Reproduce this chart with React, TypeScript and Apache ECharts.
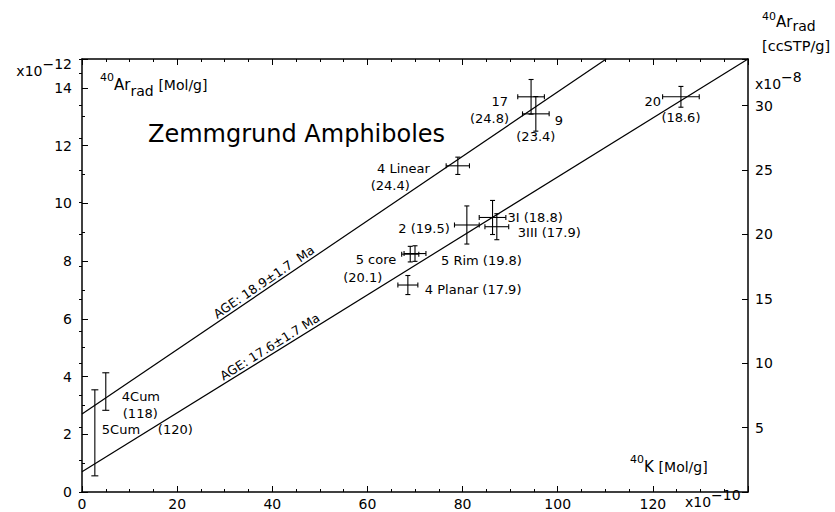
import React, { useEffect, useRef } from "react";
import * as echarts from "echarts";

// ---- data ----
// 40K in units of 1e-10 Mol/g, radiogenic 40Ar in units of 1e-12 Mol/g
const sampleNames = ["5Cum", "4Cum", "4 Planar", "5 core", "5 Rim", "4 Linear", "2", "3I", "3III", "17", "9", "20"];
const sampleAges = ["(120)", "(118)", "(17.9)", "(20.1)", "(19.8)", "(24.4)", "(19.5)", "(18.8)", "(17.9)", "(24.8)", "(23.4)", "(18.6)"];
const potassium40 = [2.7, 5.0, 68.5, 69.0, 70.0, 79.0, 80.9, 86.3, 87.2, 94.4, 95.4, 125.9];
const argon40 = [2.05, 3.48, 7.17, 8.24, 8.26, 11.3, 9.25, 9.51, 9.19, 13.69, 13.1, 13.69];
const potassiumErr = [0, 0, 2.1, 1.8, 2.3, 2.45, 2.6, 2.8, 2.5, 2.8, 2.8, 3.85];
const argonErr = [1.49, 0.65, 0.33, 0.27, 0.27, 0.3, 0.66, 0.59, 0.45, 0.6, 0.6, 0.36];

const isochronNames = ["AGE: 18.9\u00b11.7  Ma", "AGE: 17.6\u00b11.7 Ma"];
const isochronK = [
  [0, 110.2],
  [0, 140],
];
const isochronAr = [
  [2.7, 15],
  [0.7, 15],
];

const xTickLabels = [0, 20, 40, 60, 80, 100, 120];
const leftTickLabels = [0, 2, 4, 6, 8, 10, 12, 14];
const rightTickLabels = [5, 10, 15, 20, 25, 30];
const MOL_TO_CCSTP = 2.2414; // 1e-12 Mol = 2.2414e-8 ccSTP

// ---- layout / style (kept apart from the data) ----
type LabelPart = { part: "name" | "age" | "both"; dx: number; dy: number; align: "left" | "right" | "center" };
const labelLayout: LabelPart[][] = [
  [{ part: "name", dx: 7, dy: -3, align: "left" }, { part: "age", dx: 63, dy: -3, align: "left" }],
  [{ part: "name", dx: 16, dy: 5, align: "left" }, { part: "age", dx: 17, dy: 22, align: "left" }],
  [{ part: "both", dx: 17, dy: 4, align: "left" }],
  [{ part: "name", dx: -14, dy: 5, align: "right" }, { part: "age", dx: -28, dy: 23, align: "right" }],
  [{ part: "both", dx: 26, dy: 7, align: "left" }],
  [{ part: "name", dx: -28, dy: 3, align: "right" }, { part: "age", dx: -48, dy: 20, align: "right" }],
  [{ part: "both", dx: -17, dy: 4, align: "right" }],
  [{ part: "both", dx: 15, dy: 0, align: "left" }],
  [{ part: "both", dx: 21, dy: 6, align: "left" }],
  [{ part: "name", dx: -23, dy: 5, align: "right" }, { part: "age", dx: -22, dy: 22, align: "right" }],
  [{ part: "name", dx: 19, dy: 7, align: "left" }, { part: "age", dx: 0, dy: 23, align: "center" }],
  [{ part: "name", dx: -20, dy: 5, align: "right" }, { part: "age", dx: 0, dy: 21, align: "center" }],
];
const ageLabelK = [39.1, 40.3];
const FONT = '"DejaVu Sans"';
const BLACK = "#000";

function txt(text: string, x: number, y: number, size: number, align: string, vAlign = "middle", extra: any = {}) {
  return {
    type: "text",
    x,
    y,
    silent: true,
    style: {
      text,
      font: `${size}px ${FONT}`,
      fill: BLACK,
      align,
      textAlign: align,
      verticalAlign: vAlign,
      textVerticalAlign: vAlign,
      ...extra,
    },
  };
}

function makeRich(lineH: number) {
  return {
    sup: { fontSize: 11, fontFamily: "DejaVu Sans", fill: BLACK, verticalAlign: "top", textVerticalAlign: "top" },
    m: { fontSize: 15, fontFamily: "DejaVu Sans", fill: BLACK, lineHeight: lineH, verticalAlign: "middle", textVerticalAlign: "middle" },
    sub: { fontSize: 14, fontFamily: "DejaVu Sans", fill: BLACK, verticalAlign: "bottom", textVerticalAlign: "bottom" },
    u: { fontSize: 14, fontFamily: "DejaVu Sans", fill: BLACK, verticalAlign: "middle", textVerticalAlign: "middle" },
    e: { fontSize: 14, fontFamily: "DejaVu Sans", fill: BLACK, verticalAlign: "top", textVerticalAlign: "top" },
    x: { fontSize: 14, fontFamily: "DejaVu Sans", fill: BLACK, lineHeight: 29, verticalAlign: "middle", textVerticalAlign: "middle" },
  };
}

function richTxt(text: string, x: number, y: number, align: string, lineH = 26) {
  return txt(text, x, y, 15, align, "middle", { rich: makeRich(lineH) });
}

const tickLine = { color: BLACK, width: 1 };
const axisLine = { show: true, onZero: false, lineStyle: { color: BLACK, width: 1.5 } };
const labelFont = { color: BLACK, fontFamily: "DejaVu Sans", fontSize: 14 };

export default function App() {
  const ref = useRef<HTMLDivElement>(null);

  useEffect(() => {
    const chart = echarts.init(ref.current!, undefined, { renderer: "svg" });

    const points = potassium40.map((k, i) => [k, argon40[i], potassiumErr[i], argonErr[i]]);

    const option: any = {
      animation: false,
      backgroundColor: "#fff",
      grid: { left: 82, right: 87, top: 59, bottom: 20, containLabel: false },
      xAxis: [
        {
          type: "value",
          position: "bottom",
          min: 0,
          max: 140,
          interval: 20,
          axisLine,
          splitLine: { show: false },
          axisTick: { show: true, inside: true, length: 6, lineStyle: tickLine },
          minorTick: { show: true, splitNumber: 4, length: 3, lineStyle: tickLine },
          axisLabel: {
            ...labelFont,
            margin: 5,
            formatter: (v: number) => (xTickLabels.includes(v) ? String(v) : ""),
          },
        },
        {
          type: "value",
          position: "top",
          min: 0,
          max: 140,
          interval: 20,
          axisLine,
          splitLine: { show: false },
          axisTick: { show: true, inside: true, length: 6, lineStyle: tickLine },
          minorTick: { show: true, splitNumber: 4, length: 3, lineStyle: tickLine },
          axisLabel: { show: false },
        },
      ],
      yAxis: [
        {
          type: "value",
          position: "left",
          min: 0,
          max: 15,
          interval: 2,
          axisLine,
          splitLine: { show: false },
          axisTick: { show: true, inside: true, length: 6, lineStyle: tickLine },
          axisLabel: {
            ...labelFont,
            margin: 10,
            formatter: (v: number) => (leftTickLabels.includes(v) ? String(v) : ""),
          },
        },
        {
          type: "value",
          position: "left",
          min: 0,
          max: 15,
          interval: 1,
          axisLine: { show: false },
          splitLine: { show: false },
          axisTick: { show: true, inside: true, length: 3, lineStyle: tickLine },
          axisLabel: { show: false },
        },
        {
          type: "value",
          position: "right",
          min: 0,
          max: 15 * MOL_TO_CCSTP,
          interval: 5,
          axisLine,
          splitLine: { show: false },
          axisTick: { show: true, inside: true, length: 6, lineStyle: tickLine },
          axisLabel: {
            ...labelFont,
            margin: 7,
            formatter: (v: number) => (rightTickLabels.includes(v) ? String(v) : ""),
          },
        },
        {
          type: "value",
          position: "right",
          min: 0,
          max: 15 * MOL_TO_CCSTP,
          interval: 2.5,
          axisLine: { show: false },
          splitLine: { show: false },
          axisTick: { show: true, inside: true, length: 3, lineStyle: tickLine },
          axisLabel: { show: false },
        },
      ],
      series: [
        ...isochronK.map((ks, s) => ({
          type: "line",
          name: isochronNames[s],
          xAxisIndex: 0,
          yAxisIndex: 0,
          data: ks.map((k, j) => [k, isochronAr[s][j]]),
          symbol: "none",
          silent: true,
          lineStyle: { color: BLACK, width: 1.2 },
        })),
        {
          type: "custom",
          name: "samples",
          xAxisIndex: 0,
          yAxisIndex: 0,
          silent: true,
          data: points,
          renderItem: (params: any, api: any) => {
            const i = params.dataIndex;
            const k = api.value(0);
            const a = api.value(1);
            const ek = api.value(2);
            const ea = api.value(3);
            const c = api.coord([k, a]);
            const top = api.coord([k, a + ea]);
            const bot = api.coord([k, a - ea]);
            const st = { stroke: BLACK, lineWidth: 1.1 };
            const cap = ek > 0 ? 2.5 : 3.5;
            const ln = (x1: number, y1: number, x2: number, y2: number) => ({
              type: "line",
              shape: { x1, y1, x2, y2 },
              style: st,
            });
            const children: any[] = [
              ln(top[0], top[1], bot[0], bot[1]),
              ln(top[0] - cap, top[1], top[0] + cap, top[1]),
              ln(bot[0] - cap, bot[1], bot[0] + cap, bot[1]),
            ];
            if (ek > 0) {
              const l = api.coord([k - ek, a]);
              const r = api.coord([k + ek, a]);
              children.push(ln(l[0], l[1], r[0], r[1]));
              children.push(ln(l[0], l[1] - cap, l[0], l[1] + cap));
              children.push(ln(r[0], r[1] - cap, r[0], r[1] + cap));
            }
            (labelLayout[i] || []).forEach((lp) => {
              const text =
                lp.part === "name" ? sampleNames[i] : lp.part === "age" ? sampleAges[i] : `${sampleNames[i]} ${sampleAges[i]}`;
              children.push({
                type: "text",
                x: c[0] + lp.dx,
                y: c[1] + lp.dy,
                style: {
                  text,
                  font: `13px ${FONT}`,
                  fill: BLACK,
                  align: lp.align,
                  textAlign: lp.align,
                  verticalAlign: "middle",
                  textVerticalAlign: "middle",
                },
              });
            });
            return { type: "group", children };
          },
        },
      ],
    };

    chart.setOption(option);

    // isochron age labels, placed along the lines through the axes' scales
    const ageGraphics = isochronK.map((ks, s) => {
      const p0 = chart.convertToPixel({ xAxisIndex: 0, yAxisIndex: 0 }, [ks[0], isochronAr[s][0]]) as number[];
      const p1 = chart.convertToPixel({ xAxisIndex: 0, yAxisIndex: 0 }, [ks[1], isochronAr[s][1]]) as number[];
      const theta = Math.atan2(p0[1] - p1[1], p1[0] - p0[0]);
      const t = (ageLabelK[s] - ks[0]) / (ks[1] - ks[0]);
      const ar = isochronAr[s][0] + t * (isochronAr[s][1] - isochronAr[s][0]);
      const p = chart.convertToPixel({ xAxisIndex: 0, yAxisIndex: 0 }, [ageLabelK[s], ar]) as number[];
      const off = 7.5;
      const el: any = txt(isochronNames[s], p[0] - Math.sin(theta) * off, p[1] - Math.cos(theta) * off, 12.5, "center");
      el.rotation = theta;
      return el;
    });

    const graphics: any[] = [
      txt("Zemmgrund Amphiboles", 148, 134, 24, "left"),
      richTxt("{sup|40}{m|Ar}{sub|rad} {u|[Mol/g]}", 100, 85, "left"),
      richTxt("{sup|40}{m|Ar}{sub|rad}", 762, 22, "left", 22),
      txt("[ccSTP/g]", 762, 46, 14.5, "left"),
      richTxt("{sup|40}{m|K} {u|[Mol/g]}", 630, 467, "left"),
      richTxt("{x|x10}{e|\u221212}", 72, 71, "right"),
      richTxt("{x|x10}{e|\u22128}", 755, 84, "left"),
      richTxt("{x|x10}{e|\u221210}", 685, 502, "left"),
      ...ageGraphics,
    ];
    chart.setOption({ graphic: graphics });

    return () => chart.dispose();
  }, []);

  return (
    <div
      ref={ref}
      style={{ position: "fixed", left: 0, top: 0, width: 835, height: 512, background: "#fff" }}
    />
  );
}
